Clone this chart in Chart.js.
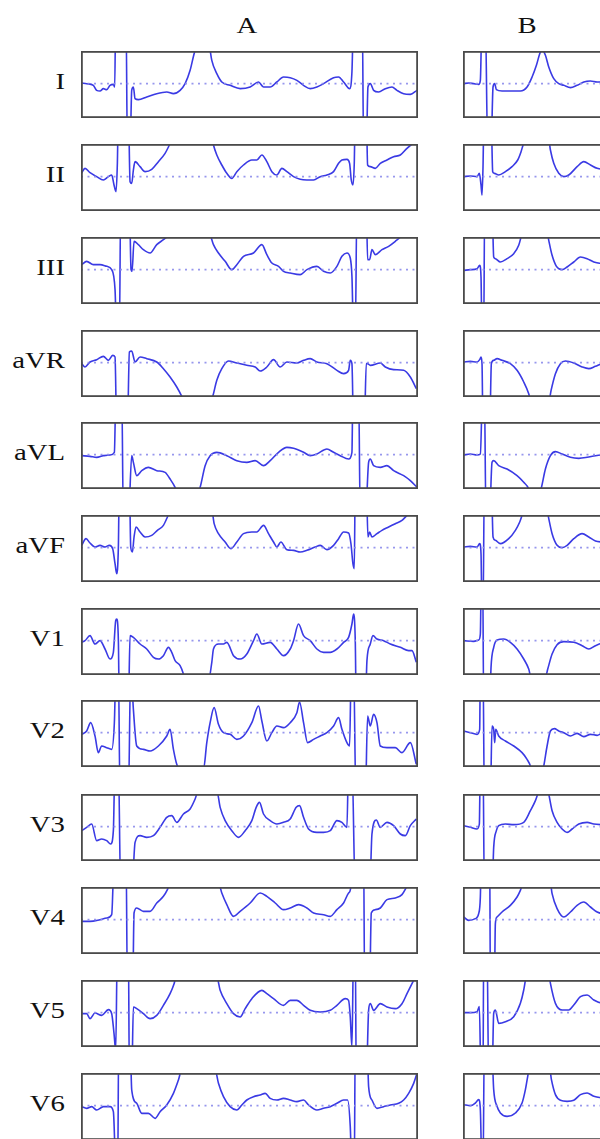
<!DOCTYPE html>
<html>
<head>
<meta charset="utf-8">
<script src="https://cdn.jsdelivr.net/npm/chart.js@4.4.1/dist/chart.umd.min.js"></script>
<style>
  html, body { margin:0; padding:0; background:#fff; width:600px; height:1139px; overflow:hidden; }
  #stage { position:relative; width:600px; height:1139px; overflow:hidden; }
  .panel { position:absolute; }
  .lbl { position:absolute; font-family:"Liberation Serif","DejaVu Serif",serif; font-size:23px; color:#111; line-height:1; white-space:nowrap; }
  .lead { text-align:right; width:80px; transform:scaleX(1.25); transform-origin:right center; }
  .col { text-align:center; width:40px; transform:scaleX(1.25); transform-origin:center center; }
</style>
</head>
<body>
<div id="stage"></div>
<script>
// ---- categories ----
const LEADS = ['I','II','III','aVR','aVL','aVF','V1','V2','V3','V4','V5','V6'];
const COLUMNS = ['A','B'];
// ---- axis ranges (time units across panel, amplitude relative to baseline) ----
const X_MIN = 0, X_MAX = 101;
const Y_MIN = -1.03, Y_MAX = 0.98;
const BASELINE = 0;

// ---- column A traces: [time, amplitude] ----
const A_I = [[0.2,0.02],[1.7,0],[3.7,-0.05],[4.7,-0.2],[5.7,-0.22],[6.7,-0.15],[7.7,-0.18],[8.7,-0.05],[9.7,-0.02],[10.1,-0.1],[10.4,2],[13.5,2],[13.9,-2],[14.7,-2],[15.2,-0.2],[15.7,-0.1],[16.2,-0.45],[17.2,-0.48],[19.7,-0.4],[22.7,-0.3],[25.7,-0.25],[27.7,-0.3],[29.7,-0.2],[31.2,0],[32.7,0.4],[33.9,0.9],[35.2,1.3],[36.7,1.5],[38.2,1.3],[39.2,0.7],[40.7,0.3],[42.2,0.05],[44.7,-0.05],[47.7,-0.15],[50.7,-0.1],[53.2,0.05],[54.7,-0.1],[56.7,-0.1],[58.7,0.05],[60.7,0.2],[62.7,0.18],[64.7,0.1],[66.7,-0.05],[68.7,-0.15],[70.7,-0.1],[72.7,0],[75.7,0.18],[77.2,0.2],[78.7,0.05],[80.5,-0.15],[81.2,0.35],[81.7,2],[84.3,2],[84.7,-2],[85.5,-2],[86,-0.1],[86.7,0],[87.7,-0.2],[89.2,-0.25],[91.2,-0.15],[93.2,-0.1],[94.7,-0.2],[96.7,-0.3],[98.7,-0.32],[100.7,-0.2]];
const A_II = [[0.1,0.1],[1.2,0.25],[2.7,0.12],[4.7,0],[6.7,-0.1],[8.2,0],[9.2,0.05],[9.9,-0.25],[10.5,-0.45],[10.9,0.4],[11.2,2],[14.2,2],[14.7,-0.15],[15.2,-0.2],[15.7,0.2],[16.2,0.45],[17.7,0.3],[19.2,0.15],[21.2,0.22],[23.2,0.45],[25.2,0.7],[26.5,0.95],[27.7,1.2],[39.2,1.2],[39.7,0.95],[40.7,0.65],[42.2,0.35],[43.7,0.1],[45.2,-0.05],[46.7,0.15],[48.7,0.35],[51.2,0.5],[52.7,0.5],[54.2,0.65],[55.7,0.45],[57.2,0.15],[58.7,0.05],[60.2,0.25],[61.7,0.15],[63.7,0],[65.7,-0.08],[67.7,-0.1],[69.7,-0.1],[71.7,0],[73.7,0.05],[75.7,0.15],[77.2,0.4],[78.2,0.5],[79.7,0.52],[80.5,0.4],[81,-0.1],[81.5,-0.25],[81.9,0.4],[82.2,2],[85.5,2],[85.9,0.35],[86.7,0.3],[88.2,0.25],[89.7,0.4],[91.7,0.5],[93.7,0.6],[95.7,0.65],[97.7,0.85],[99.2,0.98],[100.2,1.05]];
const A_III = [[0.2,0.15],[1.7,0.25],[3.7,0.15],[5.7,0.15],[7.7,0.1],[9.2,0],[10.2,-0.6],[10.7,-2],[11.5,-2],[11.9,2],[14.5,2],[15,0],[15.3,-0.05],[15.9,0.85],[17.2,0.75],[18.7,0.6],[20.7,0.5],[22.7,0.75],[24.7,0.9],[25.9,1.0],[26.7,1.1],[38.2,1.1],[38.7,1.05],[39.7,0.75],[41.2,0.5],[43.2,0.25],[45.2,0],[46.7,0.15],[48.7,0.4],[51.7,0.5],[54.2,0.75],[55.7,0.45],[57.2,0.2],[59.2,0.1],[60.7,-0.05],[62.7,-0.1],[65.7,-0.15],[67.7,0],[70.7,0.1],[72.7,-0.05],[74.7,-0.1],[76.7,0.1],[78.2,0.4],[79.7,0.5],[80.7,0.35],[81.2,-0.2],[81.7,-2],[82.2,-2],[82.7,2],[85.5,2],[85.9,0.3],[86.5,0.3],[87.2,0.6],[88.2,0.45],[90.2,0.6],[92.2,0.7],[94.2,0.85],[95.7,0.98],[96.7,1.1]];
const A_aVR = [[0.2,-0.03],[1.2,-0.13],[2.7,0.02],[4.7,0.09],[6.7,0.19],[8.2,0.07],[9.5,0.22],[10.2,0.17],[10.7,-2],[13.9,-2],[14.5,0.32],[15.2,0.35],[16.2,0.02],[17.7,0.17],[19.7,0.12],[22.7,0.02],[24.7,-0.18],[26.7,-0.43],[28.7,-0.73],[30.2,-1.01],[31.2,-1.25],[38.7,-1.25],[39.5,-1.01],[40.7,-0.53],[42.2,-0.18],[44.2,0.05],[46.7,-0.01],[49.7,-0.08],[52.2,-0.13],[53.7,-0.25],[55.7,-0.13],[57.7,0.09],[59.7,-0.13],[61.7,0.02],[64.7,-0.01],[66.7,0.07],[68.7,0.12],[70.7,0.02],[73.7,-0.03],[76.7,-0.23],[78.7,-0.33],[80.2,-0.23],[80.7,0.07],[81.2,-0.03],[81.7,-2],[84.9,-2],[85.5,-0.03],[85.9,-0.03],[86.7,-0.08],[89.7,-0.01],[91.2,-0.13],[93.7,-0.21],[96.7,-0.23],[98.7,-0.43],[100.5,-0.78]];
const A_aVL = [[0.2,-0.03],[2.7,-0.05],[4.7,-0.08],[6.7,-0.03],[8.7,-0.01],[10,0.07],[10.5,2],[12.2,2],[12.7,-2],[14.2,-2],[15.2,-0.03],[15.7,-0.23],[16.7,-0.63],[18.2,-0.48],[20.2,-0.38],[22.7,-0.48],[25.2,-0.53],[26.7,-0.73],[28.2,-0.98],[29.2,-1.23],[34.7,-1.23],[35.7,-0.98],[37.2,-0.33],[38.7,-0.03],[40.7,0.07],[43.7,-0.03],[46.7,-0.18],[49.7,-0.23],[52.2,-0.18],[54.7,-0.33],[56.7,-0.18],[59.2,0.07],[61.7,0.22],[63.7,0.19],[66.7,0.07],[68.7,-0.03],[70.7,0.02],[73.7,0.17],[75.7,0.07],[77.7,-0.03],[80.2,-0.13],[81.2,0.07],[81.5,2],[83.2,2],[83.7,-2],[85.2,-2],[86.2,-0.23],[86.7,-0.13],[87.7,-0.33],[89.7,-0.38],[91.7,-0.33],[93.7,-0.48],[96.7,-0.63],[98.7,-0.78],[100.7,-0.98]];
const A_aVF = [[0.2,0.07],[1.5,0.27],[2.7,0.14],[4.2,0.02],[5.7,0.07],[7.2,0.02],[8.5,0.07],[9.5,-0.03],[10.2,-0.48],[10.7,-0.78],[11.2,0.02],[11.5,2],[14.5,2],[14.9,0.02],[15.4,-0.13],[15.9,0.32],[16.5,0.62],[17.7,0.47],[19.2,0.32],[21.2,0.37],[22.9,0.52],[24.7,0.67],[25.9,0.92],[26.7,1.12],[39.2,1.12],[39.9,0.72],[41.2,0.42],[43.2,0.17],[44.9,-0.03],[46.7,0.17],[48.7,0.42],[51.2,0.47],[52.7,0.47],[54.7,0.67],[56.2,0.42],[57.7,0.17],[58.7,0.02],[59.9,0.17],[61.7,-0.06],[63.7,-0.08],[65.7,-0.13],[67.7,-0.08],[70.2,0.02],[71.7,0.07],[73.7,-0.06],[75.7,0.07],[77.2,0.27],[78.7,0.47],[80.2,0.44],[80.9,0.12],[81.5,-0.48],[81.9,-0.63],[82.2,2],[85.5,2],[86,0.32],[86.5,0.47],[87.2,0.32],[88.7,0.42],[90.2,0.52],[92.2,0.62],[94.2,0.72],[96.2,0.82],[97.7,0.97],[98.7,1.07]];
const A_V1 = [[0.2,-0.05],[1.2,0],[2.7,0.15],[4.2,-0.1],[5.7,0],[7.2,-0.25],[8.7,-0.55],[9.7,-0.35],[10.4,0.6],[10.7,0.65],[11.2,0],[11.5,-2],[14.2,-2],[14.7,0.15],[15.7,0.1],[17.7,-0.1],[19.7,-0.25],[21.7,-0.5],[23.2,-0.55],[24.7,-0.45],[26.2,-0.2],[27.2,-0.35],[28.2,-0.6],[29.7,-0.75],[30.7,-1.0],[31.2,-1.2],[38.2,-1.2],[39.2,-0.65],[39.7,-0.25],[41.2,-0.1],[42.7,-0.1],[43.7,-0.05],[45.7,-0.45],[47.7,-0.55],[49.7,-0.4],[51.7,0],[52.7,0.2],[54.2,-0.1],[56.7,-0.05],[58.7,-0.25],[60.7,-0.45],[62.7,-0.25],[63.7,0],[65.2,0.5],[66.7,0.15],[68.7,0],[70.7,-0.25],[72.7,-0.35],[74.7,-0.35],[76.7,-0.25],[78.7,-0.05],[80.2,0.1],[81.2,0.5],[81.7,0.8],[82.2,0],[82.5,-2],[85.2,-2],[85.7,-0.6],[86.7,-0.1],[87.5,0.15],[88.7,0.05],[90.7,0],[92.7,-0.1],[95.7,-0.2],[98.2,-0.3],[99.2,-0.3],[100.5,-0.65]];
const A_V2 = [[0.2,-0.05],[1.7,0.05],[2.9,0.3],[4.2,-0.1],[5.2,-0.6],[6.2,-0.4],[7.7,-0.45],[9.2,-0.5],[10,0.3],[10.5,2],[11.2,2],[11.7,-2],[14.2,-2],[14.9,2],[15.7,0.7],[16.7,-0.4],[18.7,-0.5],[20.7,-0.55],[23.2,-0.4],[25.7,-0.1],[26.7,0.1],[27.7,-0.5],[28.7,-0.95],[29.7,-1.1],[36.7,-1.1],[37.7,-0.3],[38.7,0.3],[39.9,0.75],[41.2,0.25],[42.7,0],[44.7,-0.05],[46.7,-0.2],[48.7,-0.1],[51.2,0.3],[53.2,0.8],[54.2,0.35],[55.7,-0.25],[57.2,0],[58.7,0.2],[60.7,0.15],[62.7,0.3],[64.7,0.6],[65.5,0.92],[66.7,0.3],[67.9,-0.3],[69.7,-0.2],[71.7,-0.1],[73.7,0],[75.7,0.2],[77.2,0.45],[78.2,0.1],[79.7,-0.3],[80.5,-0.4],[81,2],[81.7,2],[82.4,-2],[85.2,-2],[85.9,0.5],[86.7,0.2],[87.7,0.55],[88.7,0.3],[89.7,-0.4],[91.7,-0.45],[94.2,-0.45],[96.2,-0.6],[98.7,-0.3],[100.5,-0.95]];
const A_V3 = [[0.2,-0.12],[1.7,-0.02],[3.2,0.08],[4.7,-0.42],[6.2,-0.37],[7.7,-0.42],[8.9,-0.52],[9.7,-0.12],[10.2,2],[11.2,2],[11.9,-2],[15.2,-2],[16.2,-0.47],[17.7,-0.27],[19.7,-0.32],[21.7,-0.27],[23.7,-0.02],[25.7,0.28],[27.2,0.33],[28.7,0.13],[30.7,0.38],[32.7,0.53],[34.2,0.83],[35.2,1.08],[40.7,1.08],[41.7,0.58],[43.2,0.18],[45.2,-0.12],[47.2,-0.32],[49.2,-0.12],[51.2,0.18],[52.5,0.58],[53.5,0.73],[54.7,0.38],[56.7,0.18],[58.7,0.08],[60.7,0.13],[62.7,0.23],[64.5,0.58],[65.5,0.63],[66.7,0.28],[68.2,-0.07],[70.7,-0.17],[72.7,-0.17],[74.7,-0.12],[76.7,0.18],[78.2,0.13],[79.7,-0.02],[80.2,2],[81.2,2],[82.2,-2],[86.5,-2],[87.2,-0.22],[88.5,0.2],[89.7,-0.02],[91.7,0.13],[93.7,0.03],[95.7,-0.22],[97.2,-0.27],[98.7,0.03],[100.5,0.23]];
const A_V4 = [[0.2,-0.05],[2.7,-0.05],[5.7,0],[7.7,0.05],[9.2,0.15],[10,2],[13.5,2],[13.9,-2],[15.5,-2],[15.9,0.2],[16.7,0.35],[18.7,0.25],[20.7,0.25],[22.7,0.5],[24.7,0.7],[25.9,0.9],[26.7,1.1],[41.2,1.1],[42.2,0.8],[43.7,0.45],[45.7,0.1],[47.7,0.25],[50.7,0.5],[53.7,0.8],[55.7,0.7],[58.2,0.5],[60.7,0.3],[62.7,0.35],[65.2,0.45],[67.7,0.35],[69.7,0.2],[72.7,0.15],[74.7,0.1],[76.7,0.3],[78.7,0.5],[80.2,0.8],[80.9,1.0],[81.2,2],[84.7,2],[85,-2],[86.5,-2],[87,0.2],[88.2,0.3],[89.7,0.35],[91.7,0.6],[94.2,0.65],[96.2,0.75],[97.7,1.0],[98.7,1.15]];
const A_V5 = [[0.2,-0.03],[1.7,-0.03],[2.7,-0.18],[4.2,-0.01],[6.2,-0.08],[8.2,0.09],[9.2,-0.03],[9.9,-0.63],[10.4,-1.13],[10.9,2],[14.2,2],[14.5,-2],[15.2,-2],[15.7,0.17],[16.7,0.12],[18.7,-0.03],[20.7,-0.18],[22.7,-0.08],[24.7,0.22],[26.7,0.57],[27.9,0.87],[28.5,1.07],[40.7,1.07],[41.7,0.67],[43.7,0.27],[45.7,-0.03],[47.7,-0.13],[49.2,0.12],[51.2,0.42],[54.2,0.67],[55.7,0.57],[57.7,0.42],[60.7,0.22],[62.7,0.37],[64.7,0.37],[66.7,0.22],[68.7,0.07],[71.7,0.02],[74.7,0.07],[76.7,0.22],[79.2,0.42],[80.2,0.37],[80.7,-0.13],[81.2,-1.03],[81.7,2],[82.2,2],[82.5,-2],[85.5,-2],[86.2,0.07],[86.7,0.27],[87.7,0.07],[89.7,0.27],[91.7,0.17],[94.2,0.12],[96.2,0.27],[97.7,0.57],[99.2,0.87],[100.2,1.07]];
const A_V6 = [[0.2,-0.03],[1.7,-0.08],[3.2,-0.03],[4.7,-0.13],[6.7,-0.03],[8.7,-0.03],[9.7,-0.18],[10.5,-2],[11,-2],[11.3,2],[14.7,2],[15.2,0.47],[16.7,0.07],[18.2,-0.23],[20.2,-0.23],[22.2,-0.38],[23.7,-0.18],[25.7,0.02],[27.7,0.37],[29.2,0.77],[30.2,1.07],[40.2,1.07],[41.2,0.67],[42.7,0.27],[44.7,-0.03],[46.7,-0.13],[48.2,0.02],[49.7,0.17],[51.7,0.27],[53.7,0.32],[55.2,0.37],[56.7,0.22],[58.7,0.17],[60.7,0.22],[62.7,0.17],[64.7,0.12],[66.7,0.17],[68.2,0.02],[70.7,-0.13],[72.7,-0.08],[74.7,-0.03],[76.7,0.07],[78.7,0.17],[79.9,0.17],[80.7,-0.63],[81.2,-2],[81.9,-2],[82.2,2],[85.7,2],[86.2,0.57],[87.2,0.17],[88.7,-0.08],[90.7,-0.03],[92.7,0.02],[95.2,0.07],[96.7,0.17],[98.2,0.37],[99.7,0.67],[100.7,0.97]];

// ---- column B traces (only left part is inside the picture) ----
const B_I = [[0.2,0],[1.7,0.02],[3.2,0],[4.7,-0.02],[5.2,0.1],[5.7,2],[6.7,2],[7.4,-2],[8.4,-2],[9,-0.1],[9.5,0],[10,-0.18],[11.7,-0.22],[14.2,-0.22],[17.2,-0.22],[19.2,-0.1],[20.7,0.2],[22,0.55],[23,0.9],[23.7,1.02],[24.7,0.85],[25.7,0.5],[27.2,0.15],[28.7,0],[30.2,-0.05],[32.2,-0.12],[34.2,-0.05],[36.2,0.05],[38.2,0.08],[40.2,0.05],[41.7,0.05],[45,0.02]];
const B_II = [[0.2,0],[2.2,0.02],[4.2,0],[4.9,0.1],[5.4,-0.25],[5.7,-0.55],[6,0.3],[6.3,2],[8.4,2],[8.9,0.15],[9.4,0.1],[10.7,0.05],[12.7,0.15],[14.7,0.3],[16.4,0.5],[17.4,0.75],[18,0.95],[18.5,1.1],[25.7,1.1],[26.2,0.8],[27.2,0.4],[28.7,0.1],[30.2,0],[31.7,0.05],[34.2,0.3],[36.2,0.45],[38.2,0.35],[40.2,0.25],[41.7,0.22],[45,0.2]];
const B_III = [[0.2,-0.02],[2.2,0],[4.2,0.03],[5,0.13],[5.4,-0.22],[5.7,-2],[6.2,-2],[6.5,2],[8.7,2],[9.2,0.38],[9.7,0.33],[11.2,0.23],[13.2,0.33],[15.2,0.48],[16.7,0.73],[17.4,0.98],[17.8,1.13],[25.2,1.13],[25.7,0.88],[26.7,0.43],[28,0.1],[29.7,0],[31.2,0.08],[33.2,0.23],[35.2,0.38],[37.2,0.33],[39.2,0.23],[41.7,0.18],[45,0.15]];
const B_aVR = [[0.2,0.02],[2.2,0.04],[4.2,0.02],[5,0.09],[5.4,0.17],[5.7,-0.03],[6,-2],[8,-2],[8.5,-0.03],[9.2,0.07],[10.2,0.12],[11.7,0.07],[14.2,-0.03],[16.2,-0.23],[18.2,-0.58],[19.7,-0.93],[20.4,-1.18],[25.7,-1.18],[26.4,-0.83],[27.7,-0.33],[29.2,-0.03],[30.7,0.05],[33.2,-0.01],[35.7,-0.13],[37.7,-0.18],[39.7,-0.11],[41.7,-0.03],[45,0]];
const B_aVL = [[0.2,-0.01],[2.2,0.02],[4.2,-0.01],[5.2,0.02],[5.9,2],[6.4,2],[6.9,-2],[7.9,-2],[8.7,-0.23],[9.2,-0.18],[10.7,-0.33],[13.2,-0.43],[16.2,-0.63],[18.2,-0.83],[19.7,-1.03],[20.2,-1.23],[22.7,-1.23],[23.4,-1.03],[24.7,-0.43],[26.2,-0.03],[27.7,0.09],[29.7,0.02],[32.2,-0.08],[34.7,-0.11],[37.2,-0.08],[39.7,-0.03],[41.7,-0.01],[45,0]];
const B_aVF = [[0.2,0.02],[2.2,0.04],[4.2,0.02],[5,0.12],[5.4,-0.18],[5.7,-2],[6,-2],[6.4,2],[8.5,2],[9,0.32],[9.7,0.22],[11.2,0.12],[13.7,0.27],[15.7,0.52],[17,0.77],[17.7,0.97],[18.2,1.12],[25.2,1.12],[25.7,0.87],[26.7,0.42],[28.2,0.07],[29.7,0],[31.2,0.07],[33.2,0.27],[35.7,0.42],[37.7,0.32],[39.7,0.2],[41.7,0.17],[45,0.15]];
const B_V1 = [[0.2,0],[3.2,-0.02],[4.7,0.02],[5.2,0.2],[5.5,2],[5.9,2],[6.2,-2],[8,-2],[8.4,-0.8],[9.2,-0.2],[10.2,0.02],[12.2,0.05],[14.2,-0.05],[16.2,-0.25],[18.2,-0.55],[19.7,-0.85],[20.4,-1.1],[24.7,-1.1],[25.4,-0.85],[26.7,-0.4],[28.2,-0.12],[30.2,-0.03],[33.2,-0.05],[35.7,-0.15],[37.7,-0.25],[39.7,-0.15],[41.7,-0.08],[45,-0.05]];
const B_V2 = [[0.2,0.05],[2.2,0],[4.2,-0.05],[5,0.1],[5.2,2],[6,2],[6.4,-2],[8.2,-2],[8.7,0.2],[9.2,0.1],[9.5,-0.3],[9.8,0.1],[10.7,-0.1],[12.7,-0.25],[15.2,-0.4],[17.7,-0.6],[19.2,-0.8],[20.2,-1.0],[20.7,-1.2],[23.7,-1.2],[24.2,-1.0],[25.2,-0.4],[26.2,0.05],[27.4,0.12],[28.7,0.05],[30.2,0],[32.2,-0.1],[34.2,-0.02],[36.2,-0.12],[38.2,-0.05],[40.2,-0.08],[41.7,-0.02],[45,-0.03]];
const B_V3 = [[0.2,0.03],[2.2,-0.02],[4.2,-0.07],[4.9,0.08],[5.2,2],[6,2],[6.4,-2],[8.7,-2],[9.2,-0.62],[10,-0.12],[10.7,0.03],[12.7,0.08],[15.2,0.06],[18.2,0.13],[20.2,0.48],[21.7,0.78],[22.4,0.98],[23,1.18],[25.2,1.18],[25.7,0.98],[26.7,0.48],[28.2,0.13],[29.7,-0.07],[31.2,-0.17],[32.7,-0.07],[34.7,0.08],[37.2,0.13],[39.2,0.08],[41.7,0.06],[45,0.05]];
const B_V4 = [[0.2,0.08],[1.7,-0.02],[3.7,0.03],[4.7,0.18],[5.2,0.68],[5.5,2],[8,2],[8.2,-2],[9.4,-2],[9.7,-0.12],[10.2,0.08],[11.7,0.23],[14.2,0.43],[16.2,0.68],[17.2,0.88],[18,1.08],[26.2,1.08],[26.7,0.78],[28.2,0.33],[30.2,0.08],[32.2,0.23],[34.2,0.43],[36.2,0.53],[38.2,0.38],[40.2,0.23],[41.7,0.18],[45,0.15]];
const B_V5 = [[0.2,0],[2.2,0],[4.2,0.03],[4.9,0.18],[5.4,-2],[6,-2],[6.2,2],[7.2,2],[7.7,-2],[8.7,-2],[9.2,-0.02],[9.7,0.08],[10.7,-0.32],[12.7,-0.27],[15.2,-0.12],[17.2,0.28],[18.2,0.68],[18.7,0.98],[19,1.18],[25.7,1.18],[26.2,0.88],[27.7,0.28],[29.7,0.08],[31.7,0.08],[33.2,0.23],[35.2,0.48],[37.2,0.53],[39.2,0.38],[41.7,0.28],[45,0.25]];
const B_V6 = [[0.2,0.03],[2.2,0],[3.7,0.08],[4.7,0.18],[5.2,-0.12],[5.7,-2],[6,-2],[6.4,2],[8.5,2],[9.2,0.48],[10.2,-0.02],[11.2,-0.22],[13.2,-0.32],[15.7,-0.22],[17.7,0.08],[18.7,0.48],[19.4,0.88],[19.8,1.08],[26,1.08],[26.5,0.78],[27.7,0.33],[29.2,0.16],[31.2,0.13],[33.2,0.16],[35.2,0.33],[37.2,0.38],[39.2,0.28],[41.7,0.23],[45,0.2]];

const TRACES_A = [A_I, A_II, A_III, A_aVR, A_aVL, A_aVF, A_V1, A_V2, A_V3, A_V4, A_V5, A_V6];
const TRACES_B = [B_I, B_II, B_III, B_aVR, B_aVL, B_aVF, B_V1, B_V2, B_V3, B_V4, B_V5, B_V6];

// ---- layout ----
const COL_LEFT = [81, 463];
const PANEL_W = 337, PANEL_H = 67;
const ROW_TOP = [51,144,237,330,422,515,608,700,794,887,980,1073];
const COL_TITLE_X = [247, 527];

const stage = document.getElementById('stage');

const framePlugin = {
  id: 'frame',
  afterDraw(chart) {
    const a = chart.chartArea, ctx = chart.ctx;
    ctx.save();
    ctx.strokeStyle = '#4a4a4a';
    ctx.lineWidth = 1.8;
    ctx.strokeRect(a.left + 0.9, a.top + 0.9, a.right - a.left - 1.8, a.bottom - a.top - 1.8);
    ctx.restore();
  }
};

function addText(txt, cls, x, y) {
  const d = document.createElement('div');
  d.className = 'lbl ' + cls;
  d.textContent = txt;
  d.style.left = x + 'px';
  d.style.top = y + 'px';
  stage.appendChild(d);
}

COLUMNS.forEach((c, i) => addText(c, 'col', COL_TITLE_X[i] - 20, 14));
LEADS.forEach((l, r) => addText(l, 'lead', -15, ROW_TOP[r] + 19));

function makePanel(left, top, pts) {
  const cv = document.createElement('canvas');
  cv.className = 'panel';
  cv.width = PANEL_W; cv.height = PANEL_H;
  cv.style.left = left + 'px'; cv.style.top = top + 'px';
  cv.style.width = PANEL_W + 'px'; cv.style.height = PANEL_H + 'px';
  stage.appendChild(cv);
  new Chart(cv, {
    type: 'line',
    data: {
      datasets: [
        { data: [{x: X_MIN, y: BASELINE}, {x: X_MAX, y: BASELINE}],
          borderColor: 'rgba(140,140,235,0.9)', borderWidth: 1.6, borderDash: [2, 4.5],
          pointRadius: 0, clip: 0 },
        { data: pts.map(p => ({x: p[0], y: p[1]})),
          borderColor: 'rgb(58,58,228)', borderWidth: 1.6, pointRadius: 0,
          cubicInterpolationMode: 'monotone', clip: 0, borderJoinStyle: 'round' }
      ]
    },
    options: {
      responsive: false, animation: false, devicePixelRatio: 1,
      layout: { padding: 0 },
      plugins: { legend: { display: false }, tooltip: { enabled: false } },
      scales: {
        x: { type: 'linear', display: false, min: X_MIN, max: X_MAX },
        y: { type: 'linear', display: false, min: Y_MIN, max: Y_MAX }
      }
    },
    plugins: [framePlugin]
  });
}

LEADS.forEach((l, r) => {
  makePanel(COL_LEFT[0], ROW_TOP[r], TRACES_A[r]);
  makePanel(COL_LEFT[1], ROW_TOP[r], TRACES_B[r]);
});
</script>
</body>
</html>
